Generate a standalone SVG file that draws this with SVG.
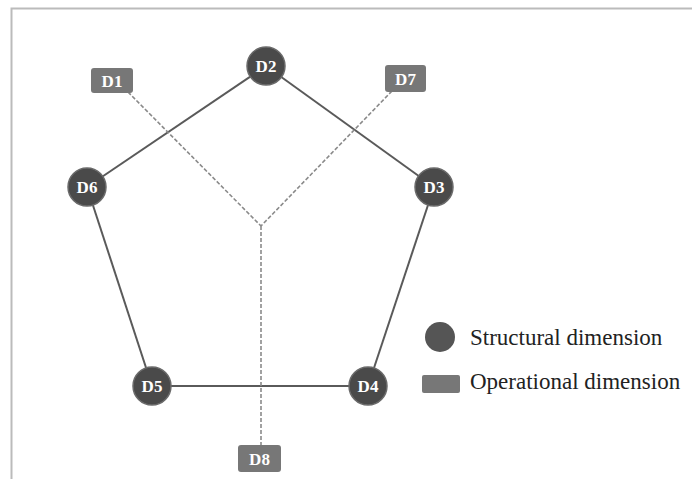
<svg xmlns="http://www.w3.org/2000/svg" width="692" height="479" viewBox="0 0 692 479">
<style>
.solid{stroke:#5a5a5a;stroke-width:2;fill:none}
.dash{stroke:#8a8a8a;stroke-width:1.6;stroke-dasharray:4 2;fill:none}
.sn{fill:#4a4a4a;stroke:#6a6a6a;stroke-width:1.5}
.on{fill:#777777}
.nl{font-family:"Liberation Serif",serif;font-weight:bold;font-size:17px;fill:#ffffff;text-anchor:middle}
.lg{font-family:"Liberation Serif",serif;font-size:23px;fill:#222222}
</style>
<rect x="0" y="0" width="692" height="479" fill="#ffffff"/>
<path d="M11.5 479 V8.5 H692" stroke="#bbbbbb" stroke-width="2" fill="none"/>
<g id="connectors">
<line class="solid" x1="266" y1="66" x2="87" y2="187"/>
<line class="solid" x1="266" y1="66" x2="434" y2="187"/>
<line class="solid" x1="434" y1="187" x2="368" y2="386"/>
<line class="solid" x1="368" y1="386" x2="152" y2="386"/>
<line class="solid" x1="152" y1="386" x2="87" y2="187"/>
<line class="dash" x1="128" y1="92" x2="261" y2="226"/>
<line class="dash" x1="392" y1="91" x2="261" y2="226"/>
<line class="dash" x1="261" y1="226" x2="261" y2="446"/>
</g>
<g id="D1"><rect class="on" x="91" y="68" width="42" height="25" rx="3"/><text class="nl" x="112" y="86.5">D1</text></g>
<g id="D7"><rect class="on" x="385" y="65" width="41" height="27" rx="3"/><text class="nl" x="405.5" y="84.5">D7</text></g>
<g id="D8"><rect class="on" x="238" y="445" width="43" height="27" rx="3"/><text class="nl" x="259.5" y="464.5">D8</text></g>
<g id="D2"><circle class="sn" cx="266" cy="66" r="19"/><text class="nl" x="266" y="72">D2</text></g>
<g id="D6"><circle class="sn" cx="87" cy="187" r="19"/><text class="nl" x="87" y="193">D6</text></g>
<g id="D3"><circle class="sn" cx="434" cy="187" r="19"/><text class="nl" x="434" y="193">D3</text></g>
<g id="D5"><circle class="sn" cx="152" cy="386" r="19"/><text class="nl" x="152" y="392">D5</text></g>
<g id="D4"><circle class="sn" cx="368" cy="386" r="19"/><text class="nl" x="368" y="392">D4</text></g>
<g id="legend">
<circle cx="440" cy="337" r="15" fill="#555555"/>
<text class="lg" x="470" y="345">Structural dimension</text>
<rect x="422" y="375" width="38" height="18" rx="2" fill="#777777"/>
<text class="lg" x="470" y="389">Operational dimension</text>
</g>
</svg>
